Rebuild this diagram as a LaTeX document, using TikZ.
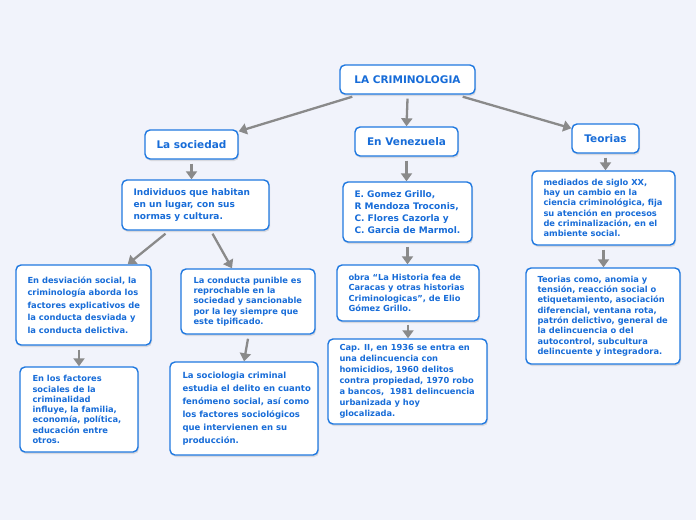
\documentclass[tikz,border=0pt]{standalone}
\usepackage{fontspec}
\setmainfont{DejaVu Sans}
\usetikzlibrary{arrows.meta,shadows}
\definecolor{bgc}{HTML}{F1F3FB}
\definecolor{bblue}{HTML}{1F78E0}
\definecolor{tblue}{HTML}{176CD8}
\definecolor{cgray}{HTML}{8A8A8A}
\tikzset{
  box/.style={draw=bblue, line width=1.4pt, fill=white, rounded corners=5pt,
    drop shadow={opacity=0.22, shadow xshift=1pt, shadow yshift=-2pt}},
  head/.style={box, text=tblue, inner sep=0pt, font=\fontsize{10.5}{12}\selectfont\bfseries},
  txt/.style={text=tblue, align=left, inner sep=0pt, anchor=west},
  big/.style={font=\fontsize{9}{12.2}\selectfont\bfseries},
  small/.style={font=\fontsize{8.3}{10.3}\selectfont\bfseries},
  conn/.style={draw=cgray, line width=2.3pt, -{Triangle[width=11pt,length=8pt]}}
}
\begin{document}
\begin{tikzpicture}[x=1pt,y=-1pt]
\useasboundingbox[fill=bgc] (0,0) rectangle (696,520);

% headers
\node[head, minimum width=135pt, minimum height=29pt] (title) at (407.5,79.5) {LA CRIMINOLOGIA};
\node[head, minimum width=93pt, minimum height=29pt] (soc) at (191.5,144.5) {La sociedad};
\node[head, minimum width=103pt, minimum height=29pt] (ven) at (406.5,141.5) {En Venezuela};
\node[head, minimum width=67pt, minimum height=29pt] (teo) at (605.5,138.5) {Teorias};

% content boxes
\node[box, minimum width=147pt, minimum height=50pt] (indiv) at (195.5,205) {};
\node[txt, big] (indiv-t) at ([xshift=12pt]indiv.west) {Individuos que habitan\\en un lugar, con sus\\normas y cultura.};

\node[box, minimum width=129pt, minimum height=60pt] (gomez) at (407.5,212) {};
\node[txt, big] (gomez-t) at ([xshift=12pt]gomez.west) {E. Gomez Grillo,\\R Mendoza Troconis,\\C. Flores Cazorla y\\C. Garcia de Marmol.};

\node[box, minimum width=143pt, minimum height=74pt] (med) at (603.5,208) {};
\node[txt, small] (med-t) at ([xshift=12pt]med.west) {mediados de siglo XX,\\hay un cambio en la\\ciencia criminológica, fija\\su atención en procesos\\de criminalización, en el\\ambiente social.};

\node[box, minimum width=135pt, minimum height=80pt] (desv) at (83.5,305) {};
\node[txt, font=\fontsize{8.35}{12.5}\selectfont\bfseries] (desv-t) at ([xshift=12pt]desv.west) {En desviación social, la\\criminología aborda los\\factores explicativos de\\la conducta desviada y\\la conducta delictiva.};

\node[box, minimum width=134pt, minimum height=65pt] (pun) at (248,301.5) {};
\node[txt, small] (pun-t) at ([xshift=13pt]pun.west) {La conducta punible es\\reprochable en la\\sociedad y sancionable\\por la ley siempre que\\este tipificado.};

\node[box, minimum width=142pt, minimum height=56pt] (obra) at (408,293) {};
\node[txt, small] (obra-t) at ([xshift=12pt]obra.west) {obra “La Historia fea de\\Caracas y otras historias\\Criminologicas”, de Elio\\Gómez Grillo.};

\node[box, minimum width=159pt, minimum height=85pt] (cap) at (407.5,381.5) {};
\node[txt, font=\fontsize{8.3}{11}\selectfont\bfseries] (cap-t) at ([xshift=12pt]cap.west) {Cap. II, en 1936 se entra en\\una delincuencia con\\homicidios, 1960 delitos\\contra propiedad, 1970 robo\\a bancos,~ 1981 delincuencia\\urbanizada y hoy\\glocalizada.};

\node[box, minimum width=154pt, minimum height=96pt] (tcomo) at (603,316) {};
\node[txt, small] (tcomo-t) at ([xshift=12pt]tcomo.west) {Teorias como, anomia y\\tensión, reacción social o\\etiquetamiento, asociación\\diferencial, ventana rota,\\patrón delictivo, general de\\la delincuencia o del\\autocontrol, subcultura\\delincuente y integradora.};

\node[box, minimum width=118pt, minimum height=85pt] (fac) at (79,409.5) {};
\node[txt, small] (fac-t) at ([xshift=13pt]fac.west) {En los factores\\sociales de la\\criminalidad\\influye, la familia,\\economía, política,\\educación entre\\otros.};

\node[box, minimum width=148pt, minimum height=93pt] (socio) at (244,408.5) {};
\node[txt, font=\fontsize{8.5}{13}\selectfont\bfseries] (socio-t) at ([xshift=13pt]socio.west) {La sociologia criminal\\estudia el delito en cuanto\\fenómeno social, así como\\los factores sociológicos\\que intervienen en su\\producción.};

% connectors
\draw[conn] ([xshift=13pt,yshift=-2pt]title.south west) -- ([yshift=-2pt]soc.north east);
\draw[conn] ([yshift=-4pt]title.south) -- (ven.north);
\draw[conn] ([xshift=-13pt,yshift=-2pt]title.south east) -- ([yshift=-5pt]teo.north west);
\draw[conn] ([yshift=-4pt]soc.south) -- (soc.south |- indiv.north);
\draw[conn] ([yshift=-4pt]ven.south) -- (ven.south |- gomez.north);
\draw[conn] ([yshift=-4pt]teo.south) -- (teo.south |- med.north);
\draw[conn] ([xshift=-30pt,yshift=-3pt]indiv.south) -- ([xshift=-24pt]desv.north east);
\draw[conn] ([xshift=17pt,yshift=-3pt]indiv.south) -- ([xshift=-16pt]pun.north);
\draw[conn] ([yshift=-4pt]fac.north |- desv.south) -- (fac.north);
\draw[conn] ([yshift=-4pt]pun.south) -- (socio.north);
\draw[conn] ([yshift=-4pt]gomez.south) -- (gomez.south |- obra.north);
\draw[conn] ([yshift=-3pt]obra.south) -- (obra.south |- cap.north);
\draw[conn] ([yshift=-4pt]med.south) -- (med.south |- tcomo.north);
\end{tikzpicture}
\end{document}
